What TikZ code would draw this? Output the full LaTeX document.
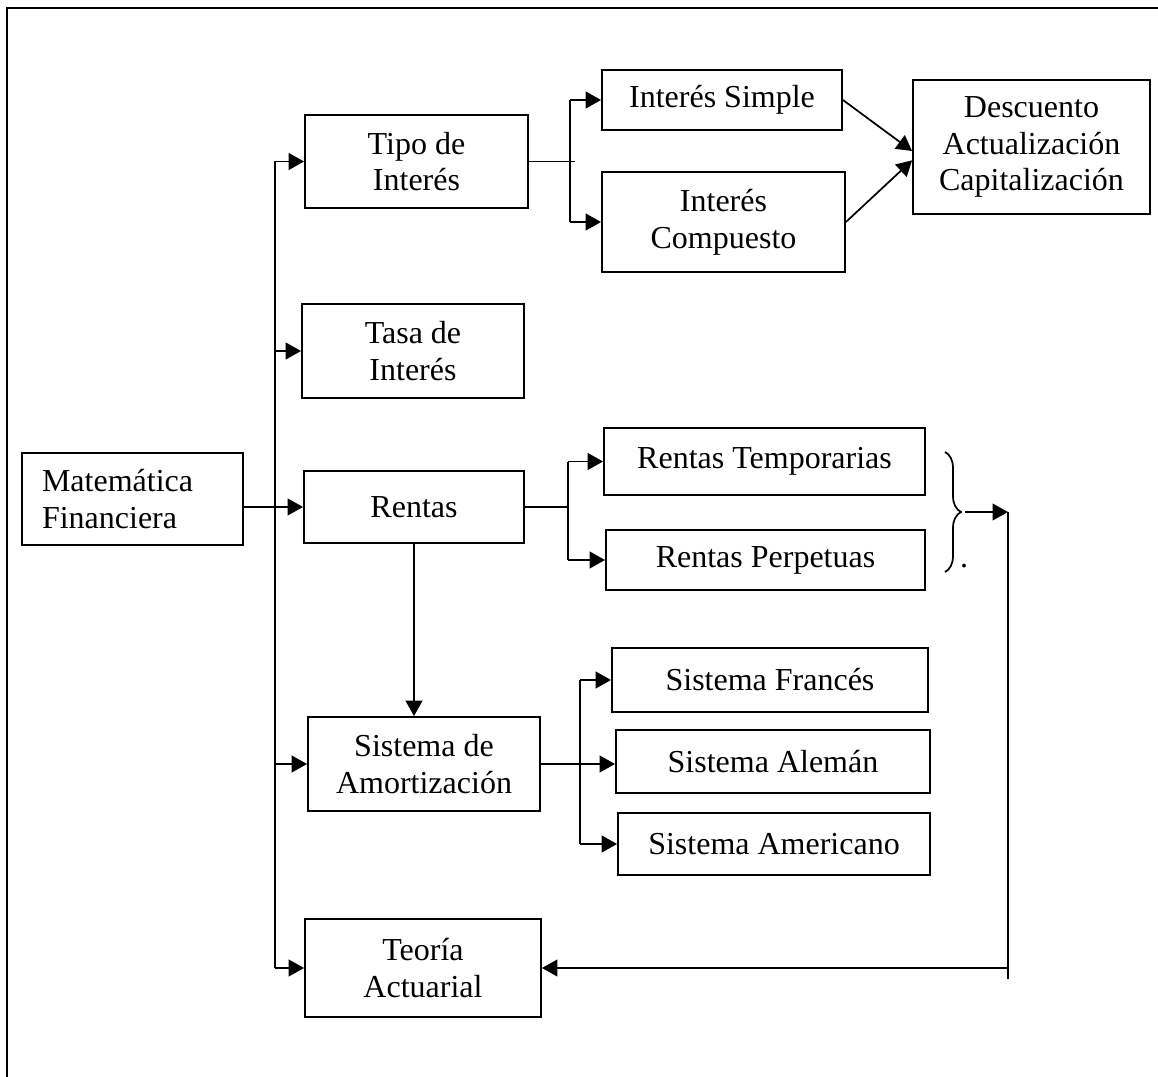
\documentclass[tikz,border=0pt]{standalone}
\usepackage{fontspec}
\setmainfont{Liberation Serif}
\usetikzlibrary{arrows.meta,decorations.pathreplacing}

\begin{document}
\begin{tikzpicture}[x=0.75pt,y=-0.75pt,
    caja/.style={draw,line width=1.4pt,align=center,inner sep=0pt,
      font=\fontsize{24}{27.6}\selectfont},
    linea/.style={line width=1.3pt},
    flecha/.style={line width=1.3pt,-{Triangle[length=11.5pt,width=12.5pt]}}]
      \useasboundingbox (0,0) rectangle (1158,1077);
      \draw[linea] (7,1077) -- (7,8) -- (1158,8);
      \draw
        (132.5,499) node[caja,align=left,text width=135.75pt,inner xsep=15pt,minimum height=69pt] (mf) {Matemática\\Financiera}
        (416.5,161.5) node[caja,minimum width=167.25pt,minimum height=69.75pt] (tipo) {Tipo de\\Interés}
        (413,351) node[caja,minimum width=166.5pt,minimum height=70.5pt] (tasa) {Tasa de\\Interés}
        (414,507) node[caja,minimum width=165pt,minimum height=54pt] (rentas) {Rentas}
        (424,764) node[caja,minimum width=174pt,minimum height=70.5pt] (sistema) {Sistema de\\Amortización}
        (423,968) node[caja,minimum width=177pt,minimum height=74pt] (teoria) {Teoría\\Actuarial}
        (722,100) node[caja,minimum width=180pt,minimum height=45pt] (simple) {Interés Simple}
        (723.5,222) node[caja,minimum width=182.25pt,minimum height=75pt] (compuesto) {Interés\\Compuesto}
        (1031.5,147) node[caja,minimum width=177.75pt,minimum height=100.5pt] (desc) {Descuento\\Actualización\\Capitalización}
        (764.5,461.5) node[caja,minimum width=240.75pt,minimum height=50.25pt] (temp) {Rentas Temporarias}
        (765.5,560) node[caja,minimum width=239.25pt,minimum height=45pt] (perp) {Rentas Perpetuas}
        (770,680) node[caja,minimum width=237pt,minimum height=48pt] (frances) {Sistema Francés}
        (773,761.5) node[caja,minimum width=235.5pt,minimum height=47.25pt] (aleman) {Sistema Alemán}
        (774,844) node[caja,minimum width=234pt,minimum height=46.5pt] (americano) {Sistema Americano}
        (964,566) node[font=\fontsize{24}{27.6}\selectfont] (punto) {.};
      % ejes de las ramas
      \coordinate (eje) at (275,0);
      \coordinate (rama1) at (570,0);
      \coordinate (rama2) at (568,0);
      \coordinate (rama3) at (580,0);
      \coordinate (llave) at (965,512);
      \coordinate (r1) at (1008,512);
      \coordinate (r2) at (1008,968);
      \begin{scope}[linea]
        \draw (tipo.west -| eje) -- (teoria.west -| eje);
        \draw (tipo.east) -- ([xshift=4pt]tipo.east -| rama1);
        \draw (simple.west -| rama1) -- (compuesto.west -| rama1);
        \draw (rentas.east) -- (rentas.east -| rama2);
        \draw (temp.west -| rama2) -- (perp.west -| rama2);
        \draw (frances.west -| rama3) -- (americano.west -| rama3);
        \draw (r1) -- ([yshift=-8pt]r2);
        \draw[decorate,decoration={brace,amplitude=12pt}] (945,452) -- (945,572);
      \end{scope}
      \begin{scope}[flecha]
        \draw (tipo.west -| eje) -- (tipo.west);
        \draw (tasa.west -| eje) -- (tasa.west);
        \draw (rentas.west -| mf.east) -- (rentas.west);
        \draw (sistema.west -| eje) -- (sistema.west);
        \draw (teoria.west -| eje) -- (teoria.west);
        \draw (simple.west -| rama1) -- (simple.west);
        \draw (compuesto.west -| rama1) -- (compuesto.west);
        \draw (simple.east) -- ([yshift=-3pt]desc.west);
        \draw (compuesto.east) -- ([yshift=-10pt]desc.west);
        \draw (temp.west -| rama2) -- (temp.west);
        \draw (perp.west -| rama2) -- (perp.west);
        \draw (rentas.south) -- (rentas.south |- sistema.north);
        \draw (sistema.east) -- (sistema.east -| aleman.west);
        \draw (frances.west -| rama3) -- (frances.west);
        \draw (americano.west -| rama3) -- (americano.west);
        \draw (llave) -- (r1);
        \draw (r2) -- (teoria.east |- r2);
      \end{scope}
    \end{tikzpicture}
\end{document}
